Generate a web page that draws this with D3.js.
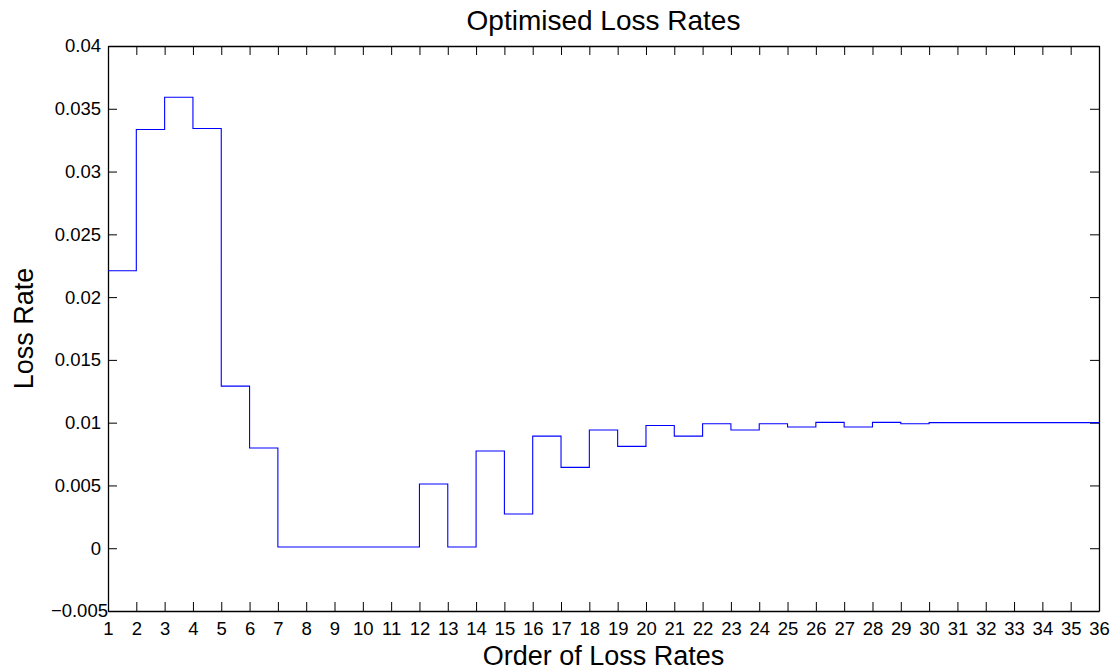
<!DOCTYPE html>
<html>
<head>
<meta charset="utf-8">
<script src="https://cdn.jsdelivr.net/npm/d3@7"></script>
<style>
  body { margin: 0; background: #fff; }
  text { font-family: "Liberation Sans", Arial, sans-serif; fill: #000; }
  .tick line { stroke: #000; }
  .domain { stroke: #000; }
</style>
</head>
<body>
<div id="chart"></div>
<script>
// data
var order = d3.range(1, 37);
var lossRates = [0.0221, 0.03335, 0.03592, 0.03343, 0.01291, 0.00798, 0.0001, 0.0001,
    0.0001, 0.0001, 0.0001, 0.00511, 0.0001, 0.00774, 0.00272, 0.00893, 0.00644, 0.00941,
    0.00811, 0.00978, 0.00893, 0.00991, 0.00941, 0.00991, 0.00965, 0.01002, 0.00965,
    0.01002, 0.00991, 0.0100, 0.0100, 0.0100, 0.0100, 0.0100, 0.0100, 0.0100];
var yTicks = [-0.005, 0, 0.005, 0.01, 0.015, 0.02, 0.025, 0.03, 0.035, 0.04];
var yTickLabels = ["\u22120.005", "0", "0.005", "0.01", "0.015", "0.02", "0.025", "0.03", "0.035", "0.04"];

var svgWidth = 1117;
var svgHeight = 671;

var margin = {
    top: 46,
    right: 18,
    left: 108,
    bottom: 60
};

var width = svgWidth - margin.right - margin.left;
var height = svgHeight - margin.top - margin.bottom;

var svg = d3.select("#chart")
    .append("svg")
    .attr("width", svgWidth)
    .attr("height", svgHeight);

var chartGroup = svg.append("g")
    .attr("transform", `translate(${margin.left}, ${margin.top})`);

var xScale = d3.scaleLinear()
    .domain([1, 36])
    .range([0, width]);

var yScale = d3.scaleLinear()
    .domain([-0.005, 0.04])
    .range([height, 0]);

// axes with ticks pointing inside, box on all four sides
var bottomAxis = d3.axisBottom(xScale).tickValues(order).tickFormat(d3.format("d"))
    .tickSizeInner(-9).tickSizeOuter(0).tickPadding(11);
var topAxis = d3.axisTop(xScale).tickValues(order).tickFormat("")
    .tickSizeInner(-9).tickSizeOuter(0);
var leftAxis = d3.axisLeft(yScale).tickValues(yTicks)
    .tickFormat((d, i) => yTickLabels[i])
    .tickSizeInner(-9).tickSizeOuter(0).tickPadding(7);
var rightAxis = d3.axisRight(yScale).tickValues(yTicks).tickFormat("")
    .tickSizeInner(-9).tickSizeOuter(0);

var gx = chartGroup.append("g")
    .attr("transform", `translate(0, ${height})`)
    .call(bottomAxis);
chartGroup.append("g").call(topAxis);
var gy = chartGroup.append("g").call(leftAxis);
chartGroup.append("g")
    .attr("transform", `translate(${width}, 0)`)
    .call(rightAxis);

gx.selectAll("text").attr("font-size", 18.5).attr("font-family", "Liberation Sans, Arial, sans-serif");
gy.selectAll("text").attr("font-size", 18.5).attr("font-family", "Liberation Sans, Arial, sans-serif");
// the bottom y label sits a bit right, over the axis line
gy.selectAll("text").filter(d => d === -0.005).attr("dx", 7);
svg.selectAll(".domain").attr("stroke-width", 1.3);

// stairs line
var stairs = d3.line()
    .x((d, i) => xScale(order[i]))
    .y(d => yScale(d))
    .curve(d3.curveStepAfter);

chartGroup.append("path")
    .datum(lossRates)
    .attr("d", stairs)
    .attr("fill", "none")
    .attr("stroke", "#0000ff")
    .attr("stroke-width", 1.1);

// title and axis labels
svg.append("text")
    .attr("x", margin.left + width / 2)
    .attr("y", 30)
    .attr("text-anchor", "middle")
    .attr("font-size", 28)
    .text("Optimised Loss Rates");

svg.append("text")
    .attr("x", margin.left + width / 2)
    .attr("y", 665)
    .attr("text-anchor", "middle")
    .attr("font-size", 27)
    .text("Order of Loss Rates");

svg.append("text")
    .attr("transform", `translate(33, ${margin.top + height / 2}) rotate(-90)`)
    .attr("text-anchor", "middle")
    .attr("font-size", 27)
    .text("Loss Rate");
</script>
</body>
</html>
